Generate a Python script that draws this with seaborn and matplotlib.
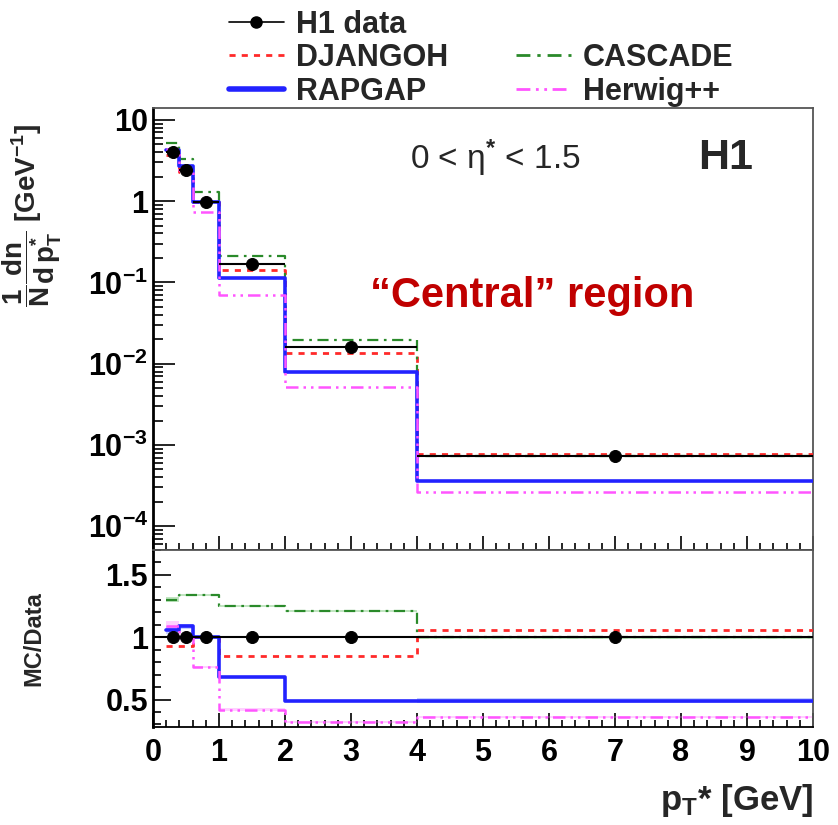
import numpy as np
import pandas as pd
import matplotlib
matplotlib.use("Agg")
import matplotlib.pyplot as plt
from matplotlib.lines import Line2D
from matplotlib.ticker import FixedLocator, FuncFormatter, MultipleLocator, LogLocator, NullFormatter
import seaborn as sns

# p_T* bin edges [GeV]
edges = [0.2, 0.4, 0.6, 1.0, 2.0, 4.0, 10.0]
centers = [0.3, 0.5, 0.8, 1.5, 3.0, 7.0]

# H1 data: 1/N dn/dp_T* [GeV^-1], 0 < eta* < 1.5
h1_data = [4.0, 2.45, 0.98, 0.169, 0.016, 7.3e-4]
h1_ratio_err = [0.02, 0.02, 0.02, 0.02, 0.02, 0.04]

# MC / Data ratios per bin
djangoh_ratio = [0.93, 0.93, 1.00, 0.85, 0.85, 1.06]
cascade_ratio = [1.30, 1.34, 1.34, 1.25, 1.21, 1.00]
rapgap_ratio = [1.06, 1.09, 1.00, 0.68, 0.49, 0.49]
herwig_ratio = [1.09, 1.00, 0.76, 0.42, 0.32, 0.36]

# MC statistical uncertainty on the ratio
rapgap_err = [0.03, 0.02, 0.01, 0.01, 0.01, 0.02]
herwig_err = [0.04, 0.02, 0.01, 0.01, 0.01, 0.01]
cascade_err = [0.02, 0.01, 0.01, 0.01, 0.01, 0.01]

sns.set_style("ticks")
plt.rcParams["font.family"] = ["Liberation Sans", "DejaVu Sans"]
plt.rcParams["font.weight"] = "bold"
plt.rcParams["mathtext.fontset"] = "custom"
plt.rcParams["mathtext.rm"] = "Liberation Sans:bold"
plt.rcParams["mathtext.bf"] = "Liberation Sans:bold"
plt.rcParams["mathtext.it"] = "Liberation Sans:bold:italic"
plt.rcParams["mathtext.default"] = "bf"

models = [
    ("DJANGOH", djangoh_ratio, "#ff2a2a", (0, (2.2, 2.2)), 2.0),
    ("CASCADE", cascade_ratio, "#2a8a2a", (0, (5, 2.5, 1.2, 2.5)), 1.6),
    ("RAPGAP", rapgap_ratio, "#2222ff", "-", 2.6),
    ("Herwig++", herwig_ratio, "#ff55ff", (0, (5, 2, 1, 2, 1, 2)), 1.8),
]

fig = plt.figure(figsize=(8.38, 8.25), dpi=100)
ax1 = fig.add_axes([0.1826, 0.3333, 0.7876, 0.5358])
ax2 = fig.add_axes([0.1826, 0.1188, 0.7876, 0.2145], sharex=ax1)


def draw_step(ax, vals, color, ls, lw, zorder=3):
    df = pd.DataFrame({"x": edges, "y": list(vals) + [vals[-1]]})
    sns.lineplot(data=df, x="x", y="y", ax=ax, drawstyle="steps-post",
                 color=color, linestyle=ls, lw=lw, estimator=None,
                 sort=False, zorder=zorder, legend=False)


def draw_band(ax, vals, errs, color):
    lo = [v - e for v, e in zip(vals, errs)]
    hi = [v + e for v, e in zip(vals, errs)]
    ax.fill_between(edges, lo + [lo[-1]], hi + [hi[-1]], step="post",
                    color=color, alpha=0.3, lw=0, zorder=2)


# --- upper panel: spectra ---
for name, ratio, color, ls, lw in models:
    vals = [r * d for r, d in zip(ratio, h1_data)]
    draw_step(ax1, vals, color, ls, lw)

ax1.hlines(h1_data, edges[:-1], edges[1:], color="black", lw=1.5, zorder=4)
sns.scatterplot(x=centers, y=h1_data, ax=ax1, color="black", s=75,
                edgecolor="black", zorder=5, legend=False)

ax1.set_yscale("log")
ax1.set_ylim(5.1e-5, 14)
ax1.set_xlim(0, 10)

def log_label(v, pos):
    if np.isclose(v, 10):
        return "10"
    if np.isclose(v, 1):
        return "1"
    return r"10$^{%d}$" % int(round(np.log10(v)))

ax1.yaxis.set_major_locator(FixedLocator([1e-4, 1e-3, 1e-2, 1e-1, 1, 10]))
ax1.yaxis.set_major_formatter(FuncFormatter(log_label))
ax1.yaxis.set_minor_locator(LogLocator(base=10, subs=np.arange(2, 10), numticks=20))
ax1.yaxis.set_minor_formatter(NullFormatter())
ax1.tick_params(axis="x", labelbottom=False)

ax1.set_ylabel(r"$\dfrac{1}{N}\dfrac{dn}{d\,p_{T}^{*}}$ [GeV$^{-1}$]",
               fontsize=20, fontweight="bold")
ax1.yaxis.set_label_coords(-0.135, 0.758)

ax1.text(0.518, 0.887, "0 < \u03b7$^{*}$ < 1.5", transform=ax1.transAxes,
         ha="center", va="center", fontsize=24, fontweight="normal")
ax1.text(0.868, 0.887, "H1", transform=ax1.transAxes, ha="center",
         va="center", fontsize=31, fontweight="bold")
ax1.text(0.328, 0.575, "\u201cCentral\u201d region", transform=ax1.transAxes,
         ha="left", va="center", fontsize=30, fontweight="bold",
         color="#c00000")

# --- lower panel: MC / Data ---
draw_band(ax2, rapgap_ratio, rapgap_err, "#4466ff")
draw_band(ax2, herwig_ratio, herwig_err, "#ff66ff")
draw_band(ax2, cascade_ratio, cascade_err, "#33aa33")
ax2.axhline(1.0, color="black", lw=1.5, zorder=4)
for name, ratio, color, ls, lw in models:
    draw_step(ax2, ratio, color, ls, lw)
ax2.errorbar(centers, [1.0] * len(centers), yerr=h1_ratio_err, fmt="none",
             ecolor="black", elinewidth=2, capsize=0, zorder=5)
sns.scatterplot(x=centers, y=[1.0] * len(centers), ax=ax2, color="black",
                s=75, edgecolor="black", zorder=6, legend=False)

ax2.set_ylim(0.28, 1.7)
ax2.set_xlim(0, 10)
ax2.yaxis.set_major_locator(FixedLocator([0.5, 1.0, 1.5]))
ax2.yaxis.set_major_formatter(FuncFormatter(lambda v, p: "%g" % v))
ax2.yaxis.set_minor_locator(MultipleLocator(0.1))
ax2.xaxis.set_major_locator(MultipleLocator(1))
ax2.xaxis.set_minor_locator(MultipleLocator(0.2))
ax2.set_ylabel("MC/Data", fontsize=17, fontweight="bold")
ax2.yaxis.set_label_coords(-0.163, 0.5)
ax2.set_xlabel(r"p$_{T}$* [GeV]", fontsize=25, fontweight="bold",
               loc="right", labelpad=10)

for ax in (ax1, ax2):
    ax.tick_params(which="both", direction="in", top=False, right=False,
                   labelsize=22, width=1.2, colors="black")
    for s in ax.spines.values():
        s.set_linewidth(1.3)
        s.set_color("#555555")
    ax.spines["left"].set_color("black")
    ax.spines["left"].set_linewidth(2.0)
    ax.spines["bottom"].set_color("black")
    for lab in ax.get_xticklabels() + ax.get_yticklabels():
        lab.set_fontweight("bold")

ax1.tick_params(axis="y", which="major", length=16)
ax1.tick_params(axis="y", which="minor", length=7)
ax1.tick_params(axis="x", which="major", length=10)
ax1.tick_params(axis="x", which="minor", length=5)
ax2.tick_params(axis="y", which="major", length=13)
ax2.tick_params(axis="y", which="minor", length=6)
ax2.tick_params(axis="x", which="major", length=10)
ax2.tick_params(axis="x", which="minor", length=5)
ax2.tick_params(axis="x", pad=8)

# --- legend ---
handles = [
    Line2D([], [], color="black", marker="o", ms=8, lw=1.2),
    Line2D([], [], color=models[0][2], ls=models[0][3], lw=2.0),
    Line2D([], [], color=models[2][2], ls="-", lw=4),
    Line2D([], [], color="none"),
    Line2D([], [], color=models[1][2], ls=models[1][3], lw=2.0),
    Line2D([], [], color=models[3][2], ls=models[3][3], lw=2.0),
]
labels = ["H1 data", "DJANGOH", "RAPGAP", "", "CASCADE", "Herwig++"]
fig.legend(handles, labels, ncol=2, loc="upper left",
           bbox_to_anchor=(0.255, 1.007), frameon=False, borderpad=0,
           prop={"size": 22, "weight": "bold"}, handlelength=1.8,
           handletextpad=0.4, columnspacing=2.2, labelspacing=0.12)

fig.savefig("out.png", dpi=100)
